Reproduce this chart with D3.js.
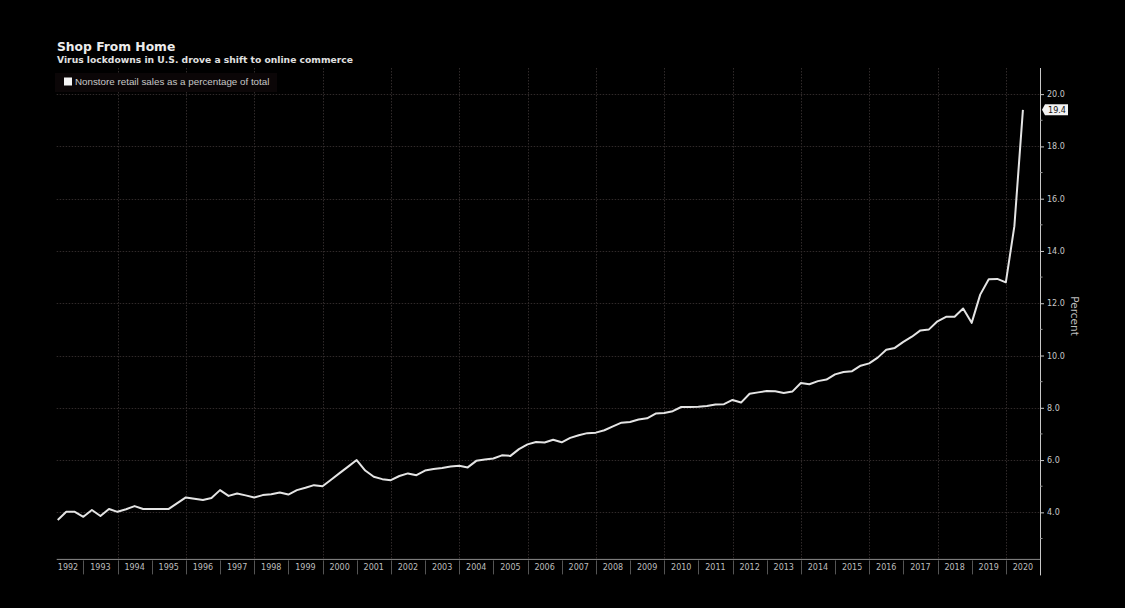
<!DOCTYPE html>
<html>
<head>
<meta charset="utf-8">
<script src="https://cdn.jsdelivr.net/npm/d3@7"></script>
<style>
  html, body { margin: 0; padding: 0; background: #000; }
  svg { display: block; }
</style>
</head>
<body>
<svg id="chart" width="1125" height="608"></svg>
<script>
// ---- Data (quarterly, plotted at quarter end) ----
const firstQuarter = [1992, 1]; // 1992 Q1
const nonstoreShare = [
  3.71, 4.02, 4.02, 3.83, 4.09, 3.86, 4.13, 4.02, 4.12, 4.24,
  4.13, 4.13, 4.13, 4.13, 4.35, 4.57, 4.52, 4.47, 4.55, 4.85,
  4.63, 4.72, 4.65, 4.57, 4.66, 4.69, 4.76, 4.68, 4.85, 4.94,
  5.04, 5.00, 5.25, 5.50, 5.75, 6.00, 5.60, 5.36, 5.27, 5.23,
  5.39, 5.49, 5.42, 5.60, 5.66, 5.70, 5.75, 5.78, 5.72, 5.97,
  6.02, 6.06, 6.18, 6.16, 6.42, 6.60, 6.69, 6.67, 6.78, 6.68,
  6.85, 6.95, 7.03, 7.05, 7.14, 7.29, 7.43, 7.46, 7.55, 7.60,
  7.78, 7.80, 7.87, 8.03, 8.03, 8.04, 8.07, 8.13, 8.14, 8.30,
  8.20, 8.54, 8.59, 8.64, 8.63, 8.57, 8.62, 8.95, 8.90, 9.02,
  9.08, 9.28, 9.37, 9.40, 9.61, 9.70, 9.92, 10.22, 10.29, 10.52,
  10.72, 10.96, 11.00, 11.31, 11.48, 11.48, 11.80, 11.25, 12.33, 12.92,
  12.93, 12.80, 14.95, 19.40
];
const yearLabels = d3.range(1992, 2021);           // 1992 ... 2020
const yTickValues = [4, 6, 8, 10, 12, 14, 16, 18, 20];
const yMinorTicks = [3, 5, 7, 9, 11, 13, 15, 17, 19];
const gridYears = d3.range(1994, 2021, 2);
const lastLabel = "19.4";
const titleText = "Shop From Home";
const subtitleText = "Virus lockdowns in U.S. drove a shift to online commerce";
const legendText = "Nonstore retail sales as a percentage of total";
const axisTitle = "Percent";

(function () {
const series = nonstoreShare.map((v, i) => ({
  t: firstQuarter[0] + (firstQuarter[1] + i) / 4,
  v
}));

// ---- Layout ----
const svg = d3.select("#chart");
const pLeft = 56.7, pRight = 1040, pTop = 68, pBottom = 559.4;
const x = d3.scaleLinear().domain([1992.22, 2021]).range([pLeft, pRight]);
const y = d3.scaleLinear().domain([2.2, 21]).range([pBottom, pTop]);

svg.append("rect").attr("width", 1125).attr("height", 608).attr("fill", "#000");

const font = "'DejaVu Sans', Verdana, sans-serif";

// gridlines
const grid = svg.append("g").attr("stroke", "#302a2a").attr("stroke-width", 1)
  .attr("stroke-dasharray", "1.5,1.5");
grid.selectAll("line.h").data(yTickValues).join("line").attr("class", "h")
  .attr("x1", pLeft).attr("x2", pRight)
  .attr("y1", d => Math.round(y(d)) + 0.5).attr("y2", d => Math.round(y(d)) + 0.5);
grid.selectAll("line.v").data(gridYears).join("line").attr("class", "v")
  .attr("x1", d => Math.round(x(d)) + 0.5).attr("x2", d => Math.round(x(d)) + 0.5)
  .attr("y1", pTop).attr("y2", pBottom);

// x axis (year boxes)
const xg = svg.append("g");
xg.append("line").attr("x1", pLeft).attr("x2", pRight)
  .attr("y1", pBottom).attr("y2", pBottom).attr("stroke", "#8a8a8a").attr("stroke-width", 1);
xg.selectAll("line.sep").data(d3.range(1993, 2021)).join("line").attr("class", "sep")
  .attr("x1", d => Math.round(x(d)) + 0.5).attr("x2", d => Math.round(x(d)) + 0.5)
  .attr("y1", pBottom + 1).attr("y2", pBottom + 15)
  .attr("stroke", "#555").attr("stroke-width", 1);
xg.selectAll("text").data(yearLabels).join("text")
  .attr("x", d => {
    const a = Math.max(x(d), pLeft), b = Math.min(x(d + 1), pRight);
    return (a + b) / 2 - (d === 1992 ? 2 : 0);
  })
  .attr("y", pBottom + 11)
  .attr("text-anchor", "middle")
  .attr("font-family", font).attr("font-size", "8px").attr("fill", "#bdbdbd")
  .text(d => d);

// right y axis
const yAxis = d3.axisRight(y).tickValues(yTickValues).tickSize(4).tickPadding(3)
  .tickFormat(d3.format(".1f"));
const yg = svg.append("g").attr("transform", `translate(${pRight},0)`).call(yAxis);
yg.select(".domain").attr("stroke", "#c8c8c8").attr("d", `M0.5,${pTop}V${pBottom + 16}`);
yg.selectAll(".tick line").attr("stroke", "#c8c8c8");
yg.selectAll(".tick text").attr("font-family", font).attr("font-size", "8px").attr("fill", "#c8c8c8");
yg.selectAll("line.minor").data(yMinorTicks).join("line")
  .attr("class", "minor")
  .attr("x1", 0).attr("x2", 2.5)
  .attr("y1", d => y(d)).attr("y2", d => y(d))
  .attr("stroke", "#9a9a9a");

// axis title
svg.append("text")
  .attr("transform", "translate(1071,316) rotate(90)")
  .attr("text-anchor", "middle")
  .attr("font-family", font).attr("font-size", "10.5px").attr("fill", "#bdbdbd")
  .text(axisTitle);

// line
const line = d3.line().x(d => x(d.t)).y(d => y(d.v));
svg.append("path").datum(series)
  .attr("d", line)
  .attr("fill", "none").attr("stroke", "#e4e4e4").attr("stroke-width", 2)
  .attr("stroke-linejoin", "round");

// last value label
const last = series[series.length - 1];
const ly = y(last.v);
const lg = svg.append("g").attr("transform", `translate(${pRight + 2},${ly})`);
lg.append("path").attr("d", "M0,0 L3,-5.5 H26 V5.5 H3 Z").attr("fill", "#f2f2f2");
lg.append("text").attr("x", 15).attr("y", 3).attr("text-anchor", "middle")
  .attr("font-family", font).attr("font-size", "8px").attr("fill", "#111")
  .text(lastLabel);

// titles
svg.append("text").attr("x", 57).attr("y", 51)
  .attr("font-family", font).attr("font-weight", "bold").attr("font-size", "12.3px")
  .attr("fill", "#ececec").text(titleText);
svg.append("text").attr("x", 57).attr("y", 62.5)
  .attr("font-family", font).attr("font-weight", "bold").attr("font-size", "9.2px")
  .attr("fill", "#e0e0e0").text(subtitleText);

// legend
svg.append("rect").attr("x", 55).attr("y", 73).attr("width", 222).attr("height", 19)
  .attr("fill", "#0b0607");
svg.append("rect").attr("x", 64).attr("y", 77.5).attr("width", 8).attr("height", 8)
  .attr("fill", "#f5f5f5");
svg.append("text").attr("x", 75).attr("y", 85)
  .attr("font-family", "'Liberation Sans', Arial, sans-serif").attr("font-size", "9.8px")
  .attr("fill", "#c8c8c8").text(legendText);
})();
</script>
</body>
</html>
